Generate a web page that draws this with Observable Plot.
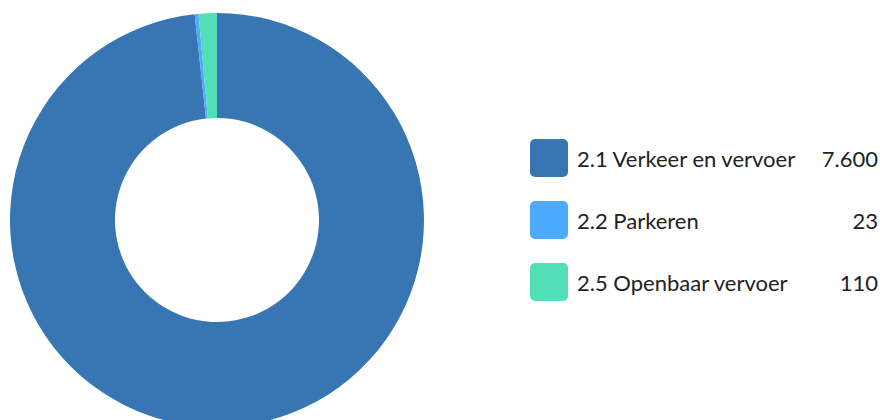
<!DOCTYPE html>
<html>
<head>
<meta charset="utf-8">
<script src="https://cdn.jsdelivr.net/npm/d3@7"></script>
<script src="https://cdn.jsdelivr.net/npm/@observablehq/plot@0.6"></script>
<style>
  html, body { margin: 0; padding: 0; background: #fff; }
  #wrap { position: relative; width: 880px; height: 420px; overflow: hidden; font-family: Lato, "Open Sans", sans-serif; }
  #legend { position: absolute; left: 530px; top: 139px; width: 350px; }
  .row { display: flex; align-items: center; height: 38px; margin-bottom: 24px; color: #222; font-size: 22px; }
  .sw { width: 38px; height: 38px; border-radius: 5px; flex: none; margin-right: 9px; }
  .lab { flex: 1; white-space: nowrap; }
  .val { text-align: right; margin-right: 2px; }
</style>
</head>
<body>
<div id="wrap"><div id="legend"></div></div>
<script>
const categories = ["2.1 Verkeer en vervoer", "2.2 Parkeren", "2.5 Openbaar vervoer"];
const values = [7600, 23, 110];
const valueLabels = ["7.600", "23", "110"];
const colors = ["#3776b3", "#4dabff", "#52dfb7"];

const data = categories.map((c, i) => ({category: c, value: values[i]}));

const W = 880, H = 420;
const cx = 217, cy = 220, outerR = 207, innerR = 102;

const donut = (index, scales) => {
  const g = d3.create("svg:g");
  const arcs = d3.pie().sort(null).value(d => d.value)(data);
  const arc = d3.arc().innerRadius(innerR).outerRadius(outerR);
  const color = scales.color;
  g.attr("transform", `translate(${scales.x(cx)},${scales.y(cy)})`);
  g.selectAll("path").data(arcs).join("path")
    .attr("d", arc)
    .attr("fill", d => color ? color(d.data.category) : colors[d.index]);
  return g.node();
};

const chart = Plot.plot({
  width: W, height: H,
  margin: 0,
  x: {domain: [0, W], range: [0, W], axis: null},
  y: {domain: [0, H], range: [0, H], axis: null},
  color: {domain: categories, range: colors},
  marks: [
    Plot.dot(data, {x: () => cx, y: () => cy, r: 0, fill: "category"}),
    donut
  ]
});
document.getElementById("wrap").prepend(chart);

const legend = d3.select("#legend");
categories.forEach((c, i) => {
  const row = legend.append("div").attr("class", "row");
  row.append("div").attr("class", "sw").style("background", colors[i]);
  row.append("div").attr("class", "lab").text(c);
  row.append("div").attr("class", "val").text(valueLabels[i]);
});
</script>
</body>
</html>
